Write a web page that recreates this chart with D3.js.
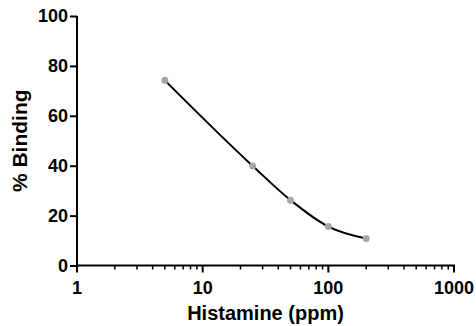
<!DOCTYPE html>
<html>
<head>
<meta charset="utf-8">
<script src="https://cdn.jsdelivr.net/npm/d3@7"></script>
<style>
  html, body { margin: 0; padding: 0; background: #fff; }
  svg { display: block; font-family: "Liberation Sans", Arial, sans-serif; }
</style>
</head>
<body>
<div id="chart"></div>
<script>
// Data
const concentrations = [5, 25, 50, 100, 200];
const binding = [74.2, 39.9, 26.2, 15.6, 10.8];
const xTicks = [1, 10, 100, 1000];
const yTicks = [0, 20, 40, 60, 80, 100];

const width = 476, height = 326;
const margin = { top: 16, right: 22, bottom: 60.5, left: 77 };

const svg = d3.select('#chart').append('svg')
  .attr('width', width)
  .attr('height', height);

const x = d3.scaleLog().domain([1, 1000]).range([margin.left, width - margin.right]);
const y = d3.scaleLinear().domain([0, 100]).range([height - margin.bottom, margin.top]);

const axisColor = '#000';
const fontFamily = '"Liberation Sans", Arial, sans-serif';

/* Y axis */
const yAxis = svg.append('g')
  .attr('transform', `translate(${margin.left},0)`)
  .call(d3.axisLeft(y).tickValues(yTicks).tickSize(7).tickPadding(2));
yAxis.select('.domain').attr('stroke-width', 2).attr('d', `M0,${y(100)}V${y(0)}`);
yAxis.selectAll('line').attr('stroke-width', 2);
yAxis.selectAll('text')
  .attr('font-size', 18).attr('font-weight', 700).attr('fill', axisColor)
  .attr('font-family', fontFamily);

/* X axis: major + minor log ticks */
const minorTicks = [];
for (let d = 1; d < 1000; d *= 10) {
  for (let k = 2; k <= 9; k++) minorTicks.push(d * k);
}

const xAxisG = svg.append('g').attr('transform', `translate(0,${y(0)})`);
xAxisG.append('path')
  .attr('d', `M${x(1) - 1},0H${x(1000) + 1}`)
  .attr('stroke', axisColor).attr('stroke-width', 2).attr('fill', 'none');

xAxisG.selectAll('line.minor')
  .data(minorTicks)
  .join('line')
  .attr('class', 'minor')
  .attr('x1', d => x(d)).attr('x2', d => x(d))
  .attr('y1', 0).attr('y2', 4)
  .attr('stroke', axisColor).attr('stroke-width', 1.5);

xAxisG.selectAll('line.major')
  .data(xTicks)
  .join('line')
  .attr('class', 'major')
  .attr('x1', d => x(d)).attr('x2', d => x(d))
  .attr('y1', 0).attr('y2', 7)
  .attr('stroke', axisColor).attr('stroke-width', 2);

xAxisG.selectAll('text.tick-label')
  .data(xTicks)
  .join('text')
  .attr('class', 'tick-label')
  .attr('x', d => x(d))
  .attr('y', 28)
  .attr('text-anchor', 'middle')
  .attr('font-size', 18).attr('font-weight', 700).attr('fill', axisColor)
  .text(d => d);

/* Axis titles */
svg.append('text')
  .attr('x', x(Math.sqrt(1000)))
  .attr('y', 320)
  .attr('text-anchor', 'middle')
  .attr('font-size', 20).attr('font-weight', 700)
  .text('Histamine (ppm)');

svg.append('text')
  .attr('transform', `translate(27,${y(50)}) rotate(-90)`)
  .attr('text-anchor', 'middle')
  .attr('font-size', 21).attr('font-weight', 700)
  .text('% Binding');

/* Curve + points */
const pts = concentrations.map((c, i) => ({ c, v: binding[i] }));

const line = d3.line()
  .x(d => x(d.c))
  .y(d => y(d.v))
  .curve(d3.curveMonotoneX);

svg.append('path')
  .datum(pts)
  .attr('d', line)
  .attr('fill', 'none')
  .attr('stroke', '#000')
  .attr('stroke-width', 2);

svg.selectAll('circle.pt')
  .data(pts)
  .join('circle')
  .attr('class', 'pt')
  .attr('cx', d => x(d.c))
  .attr('cy', d => y(d.v))
  .attr('r', 3.5)
  .attr('fill', '#a6a6a6');
</script>
</body>
</html>
